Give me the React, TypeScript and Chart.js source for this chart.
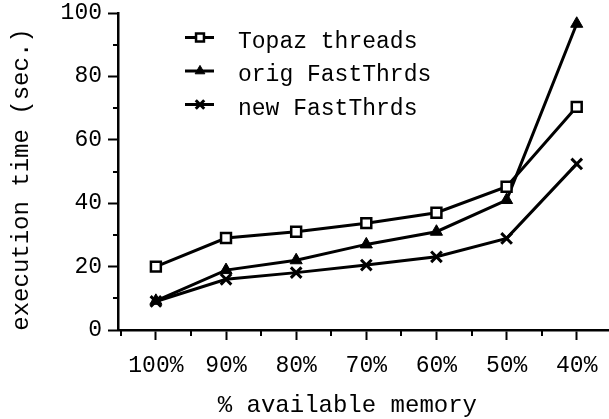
import React, { useEffect, useRef } from 'react';
import { Chart, registerables } from 'chart.js';
import { drawPoint } from 'chart.js/helpers';

Chart.register(...registerables);

const memoryPct = [100, 90, 80, 70, 60, 50, 40];
const topazThreads = [20, 29, 31, 33.7, 37, 45.2, 70.4];
const origFastThrds = [9.2, 18.9, 22, 27, 31, 41, 96.6];
const newFastThrds = [9, 16, 18.1, 20.5, 23.1, 28.9, 52.4];
const seriesLabels = ['Topaz threads', 'orig FastThrds', 'new FastThrds'];
const yMajorTicks = [0, 20, 40, 60, 80, 100];
const yMinorTicks = [10, 30, 50, 70, 90];
const xMinorTicks = [105, 95, 85, 75, 65, 55, 45];
const xAxisTitle = '% available memory';
const yAxisTitle = 'execution time (sec.)';

const FONT = '"Liberation Mono", "DejaVu Sans Mono", monospace';

const toPoints = (ys: number[]) => memoryPct.map((x, i) => ({ x, y: ys[i] }));

const decorPlugin = {
  id: 'decor',
  beforeDraw(chart: any) {
    const { ctx, width, height } = chart;
    ctx.save();
    ctx.fillStyle = '#fff';
    ctx.fillRect(0, 0, width, height);
    ctx.restore();
  },
  afterDraw(chart: any) {
    const { ctx, chartArea } = chart;
    const xs = chart.scales.x;
    const ys = chart.scales.y;
    ctx.save();
    ctx.strokeStyle = '#000';
    ctx.fillStyle = '#000';
    ctx.lineWidth = 2;
    // minor ticks
    ctx.beginPath();
    yMinorTicks.forEach((v) => {
      const py = Math.round(ys.getPixelForValue(v));
      ctx.moveTo(chartArea.left - 5, py);
      ctx.lineTo(chartArea.left, py);
    });
    xMinorTicks.forEach((v) => {
      const px = Math.round(xs.getPixelForValue(v));
      ctx.moveTo(px, chartArea.bottom);
      ctx.lineTo(px, chartArea.bottom + 6);
    });
    ctx.stroke();

    // axis titles
    ctx.font = `24px ${FONT}`;
    ctx.textAlign = 'center';
    ctx.textBaseline = 'alphabetic';
    const xc = (chartArea.left + xs.getPixelForValue(memoryPct[memoryPct.length - 1])) / 2;
    ctx.fillText(xAxisTitle, xc, chartArea.bottom + 82);

    ctx.save();
    ctx.translate(22, (chartArea.top + chartArea.bottom) / 2 + 8);
    ctx.rotate(-Math.PI / 2);
    ctx.textBaseline = 'middle';
    ctx.fillText(yAxisTitle, 0, 0);
    ctx.restore();

    // legend
    ctx.font = `23px ${FONT}`;
    ctx.textAlign = 'left';
    ctx.textBaseline = 'alphabetic';
    chart.data.datasets.forEach((ds: any, i: number) => {
      const base = chartArea.top + 34.5 + i * 33.5;
      const ly = base - 10;
      const x0 = chartArea.left + 67;
      ctx.lineWidth = ds.borderWidth;
      ctx.strokeStyle = ds.borderColor;
      ctx.beginPath();
      ctx.moveTo(x0, ly);
      ctx.lineTo(x0 + 29, ly);
      ctx.stroke();
      ctx.fillStyle = ds.pointBackgroundColor;
      ctx.strokeStyle = ds.pointBorderColor;
      ctx.lineWidth = ds.pointBorderWidth;
      drawPoint(ctx, {
        pointStyle: ds.pointStyle,
        radius: ds.pointRadius * 0.8,
        rotation: 0,
        borderWidth: ds.pointBorderWidth,
      } as any, x0 + 15, ly);
      ctx.fillStyle = '#000';
      ctx.fillText(ds.label, chartArea.left + 120, base);
    });
    ctx.restore();
  },
};

export default function App() {
  const canvasRef = useRef<HTMLCanvasElement | null>(null);

  useEffect(() => {
    if (!canvasRef.current) return;
    const common = {
      borderColor: '#000',
      borderWidth: 3,
      pointBorderColor: '#000',
      tension: 0,
      clip: false as any,
    };
    const chart = new Chart(canvasRef.current, {
      type: 'line',
      data: {
        datasets: [
          {
            ...common,
            label: seriesLabels[0],
            data: toPoints(topazThreads),
            pointStyle: 'rect',
            pointRadius: 7,
            pointBackgroundColor: '#fff',
            pointBorderWidth: 2.5,
          },
          {
            ...common,
            label: seriesLabels[1],
            data: toPoints(origFastThrds),
            pointStyle: 'triangle',
            pointRadius: 7,
            pointBackgroundColor: '#000',
            pointBorderWidth: 1,
          },
          {
            ...common,
            label: seriesLabels[2],
            data: toPoints(newFastThrds),
            pointStyle: 'crossRot',
            pointRadius: 7.5,
            pointBackgroundColor: '#000',
            pointBorderWidth: 3,
          },
        ] as any,
      },
      options: {
        responsive: false,
        animation: false,
        devicePixelRatio: 1,
        layout: { autoPadding: false, padding: { top: 13, right: 0, left: 0, bottom: 0 } },
        plugins: { legend: { display: false }, tooltip: { enabled: false } },
        scales: {
          x: {
            type: 'linear',
            reverse: true,
            min: 35.4,
            max: 105.4,
            afterBuildTicks: (s: any) => {
              s.ticks = memoryPct.map((v) => ({ value: v }));
            },
            afterFit: (s: any) => {
              s.height = 89;
              s.paddingLeft = 0;
              s.paddingRight = 0;
              s.paddingTop = 0;
              s.paddingBottom = 0;
            },
            grid: { drawOnChartArea: false, drawTicks: true, tickLength: 10, tickWidth: 2, tickColor: '#000' },
            border: { display: true, color: '#000', width: 2.5 },
            ticks: {
              callback: (v: any) => `${v}%`,
              color: '#000',
              font: { family: FONT, size: 23 },
              padding: 12,
              maxRotation: 0,
              autoSkip: false,
            },
          },
          y: {
            type: 'linear',
            min: 0,
            max: 100,
            afterBuildTicks: (s: any) => {
              s.ticks = yMajorTicks.map((v) => ({ value: v }));
            },
            afterFit: (s: any) => {
              s.width = 118;
              s.paddingLeft = 0;
              s.paddingRight = 0;
              s.paddingTop = 0;
              s.paddingBottom = 0;
            },
            grid: { drawOnChartArea: false, drawTicks: true, tickLength: 10, tickWidth: 2, tickColor: '#000' },
            border: { display: true, color: '#000', width: 2.5 },
            ticks: {
              color: '#000',
              font: { family: FONT, size: 23 },
              padding: 6,
            },
          },
        },
      } as any,
      plugins: [decorPlugin],
    });
    return () => chart.destroy();
  }, []);

  return (
    <div style={{ position: 'fixed', left: 0, top: 0, width: 609, height: 419, background: '#fff' }}>
      <canvas ref={canvasRef} width={609} height={419} style={{ display: 'block' }} />
    </div>
  );
}
